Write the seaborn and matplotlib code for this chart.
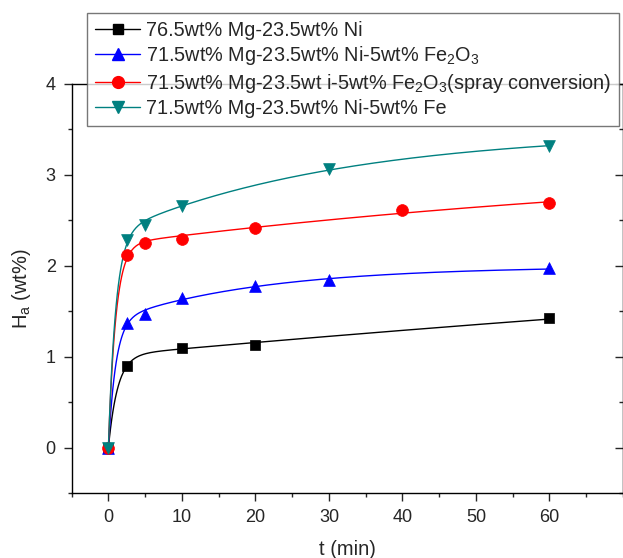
"""Hydrogen absorption kinetics of Mg-Ni based samples."""
import matplotlib
matplotlib.use("Agg")
import matplotlib.pyplot as plt
from matplotlib.lines import Line2D
from matplotlib.ticker import MultipleLocator
import seaborn as sns
import numpy as np

# data (t in min, Ha in wt%)
t_ni = [0, 2.5, 10, 20, 60]
h_ni = [0.0, 0.90, 1.10, 1.13, 1.42]

t_fe2o3 = [0, 2.5, 5, 10, 20, 30, 60]
h_fe2o3 = [0.0, 1.37, 1.47, 1.65, 1.78, 1.84, 1.97]

t_spray = [0, 2.5, 5, 10, 20, 40, 60]
h_spray = [0.0, 2.12, 2.25, 2.29, 2.42, 2.61, 2.69]

t_fe = [0, 2.5, 5, 10, 30, 60]
h_fe = [0.0, 2.28, 2.45, 2.66, 3.06, 3.32]

labels = [
    "76.5wt% Mg-23.5wt% Ni",
    "71.5wt% Mg-23.5wt% Ni-5wt% Fe$_2$O$_3$",
    "71.5wt% Mg-23.5wt i-5wt% Fe$_2$O$_3$(spray conversion)",
    "71.5wt% Mg-23.5wt% Ni-5wt% Fe",
]
colors = ["black", "#0000ff", "#ff0000", "#008080"]
markers = ["s", "^", "o", "v"]
msizes = [6.5, 8.5, 8.5, 8.5]

sns.set_style("ticks")
plt.rcParams["font.family"] = ["Liberation Sans", "DejaVu Sans"]
plt.rcParams["mathtext.fontset"] = "custom"
plt.rcParams["mathtext.rm"] = "Liberation Sans"
plt.rcParams["mathtext.it"] = "Liberation Sans"
plt.rcParams["font.size"] = 13


def fit_curve(t, h):
    """Least-squares fit of a two-term exponential rise, returns a smooth curve."""
    t = np.asarray(t, float)
    h = np.asarray(h, float)
    best = None
    for t1 in np.linspace(1.0, 6, 41):
        for t2 in np.logspace(np.log10(8), np.log10(300), 60):
            X = np.column_stack([1 - np.exp(-t / t1), 1 - np.exp(-t / t2)])
            coef, *_ = np.linalg.lstsq(X, h, rcond=None)
            if np.any(coef < 0):
                continue
            sse = np.sum((X @ coef - h) ** 2)
            if best is None or sse < best[0]:
                best = (sse, t1, t2, coef)
    _, t1, t2, (a1, a2) = best
    tt = np.linspace(0, t.max(), 400)
    return tt, a1 * (1 - np.exp(-tt / t1)) + a2 * (1 - np.exp(-tt / t2))


fig = plt.figure(figsize=(6.23, 5.58), dpi=100)
ax = fig.add_axes([0.115, 0.1165, 0.885, 0.733])

series = [(t_ni, h_ni), (t_fe2o3, h_fe2o3), (t_spray, h_spray), (t_fe, h_fe)]
handles = []
for (t, h), c, m, ms, lab in zip(series, colors, markers, msizes, labels):
    tt, hh = fit_curve(t, h)
    sns.lineplot(x=tt, y=hh, color=c, linewidth=1.0, ax=ax)
    sns.scatterplot(x=t, y=h, color=c, marker=m, s=ms ** 2, edgecolor=c,
                    linewidth=0.5, ax=ax, zorder=3)
    handles.append(Line2D([], [], color=c, lw=1.0, marker=m, markersize=ms,
                          markeredgecolor=c, label=lab))

ax.set_xlim(-5, 70)
ax.set_ylim(-0.5, 4)
ax.xaxis.set_minor_locator(MultipleLocator(5))
ax.yaxis.set_major_locator(MultipleLocator(1))
ax.yaxis.set_minor_locator(MultipleLocator(0.5))
ax.set_xticks(range(0, 61, 10))
ax.tick_params(which="major", direction="out", length=5.5, width=1,
               labelsize=13, pad=6)
ax.tick_params(which="minor", direction="out", length=3, width=1)
for sp in ax.spines.values():
    sp.set_linewidth(1.0)
    sp.set_color("black")

# inward ticks on the right side
sec = ax.secondary_yaxis("right")
sec.yaxis.set_major_locator(MultipleLocator(1))
sec.yaxis.set_minor_locator(MultipleLocator(0.5))
sec.tick_params(which="major", direction="in", length=5.5, width=1, labelright=False)
sec.tick_params(which="minor", direction="in", length=3, width=1)

ax.set_xlabel("t (min)", fontsize=14.5, labelpad=10)
ax.set_ylabel("H$_\\mathrm{a}$ (wt%)", fontsize=14.5, labelpad=9)

leg = fig.legend(handles=handles, loc="upper left", bbox_to_anchor=(0.14, 0.977),
                 frameon=True, fancybox=False, fontsize=14.3, handlelength=2.25,
                 handletextpad=0.3, borderpad=0.4, labelspacing=0.22,
                 borderaxespad=0)
leg.get_frame().set_edgecolor("#555555")
leg.get_frame().set_linewidth(1.0)
leg.set_zorder(10)

plt.savefig("out.png", dpi=100)
